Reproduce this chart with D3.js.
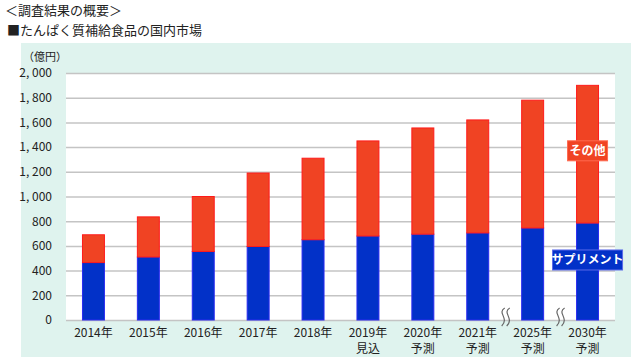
<!DOCTYPE html>
<html>
<head>
<meta charset="utf-8">
<script src="https://cdn.jsdelivr.net/npm/d3@7"></script>
<style>
  body { margin: 0; background: #fff; }
  svg { display: block; font-family: "Noto Sans CJK JP", sans-serif; }
</style>
</head>
<body>
<div id="chart"></div>
<script>
var years = ["2014年", "2015年", "2016年", "2017年", "2018年", "2019年", "2020年", "2021年", "2025年", "2030年"],
    subLabels = ["", "", "", "", "", "見込", "予測", "予測", "予測", "予測"],
    supplement = [465, 510, 555, 595, 650, 680, 695, 705, 745, 785],
    totals = [690, 835, 1000, 1190, 1310, 1450, 1555, 1620, 1780, 1900],
    yTicks = [0, 200, 400, 600, 800, 1000, 1200, 1400, 1600, 1800, 2000];

var svg = d3.select("#chart").append("svg").attr("width", 640).attr("height", 364);

// titles
svg.append("text").attr("x", 5).attr("y", 15).attr("font-size", 13).attr("fill", "#222").text("＜調査結果の概要＞");
svg.append("text").attr("x", 7).attr("y", 35).attr("font-size", 13).attr("fill", "#222").text("■たんぱく質補給食品の国内市場");

// mint panel
svg.append("rect").attr("x", 21).attr("y", 43).attr("width", 610).attr("height", 314).attr("fill", "#dff3ee");

var x = d3.scaleBand().domain(years).range([66, 615]).paddingInner(0.6).paddingOuter(0.3);
var y = d3.scaleLinear().domain([0, 2000]).range([320, 73]);

svg.append("rect").attr("x", 66).attr("y", 73).attr("width", 549).attr("height", 247).attr("fill", "#fff");

// gridlines + labels
var ax = svg.append("g").attr("transform", "translate(66,0)")
    .call(d3.axisLeft(y).tickValues(yTicks).tickSize(-549).tickPadding(14)
      .tickFormat(d => d3.format(",")(d).replace(",", ", ")));
ax.select(".domain").remove();
ax.selectAll(".tick line").attr("stroke", "#c4c4c4").attr("stroke-width", 1.5);
ax.selectAll(".tick text").attr("font-size", 12).attr("fill", "#222").attr("font-family", "\"Noto Sans CJK JP\", sans-serif");

svg.append("text").attr("x", 23).attr("y", 61).attr("font-size", 11).attr("fill", "#222").text("（億円）");

// stacked bars
svg.append("g").selectAll("rect").data(years).join("rect")
    .attr("x", d => x(d)).attr("width", x.bandwidth())
    .attr("y", (d, i) => y(supplement[i])).attr("height", (d, i) => y(0) - y(supplement[i]))
    .attr("fill", "#0231c8").attr("stroke", "#2a2af0").attr("stroke-width", 1);
svg.append("g").selectAll("rect").data(years).join("rect")
    .attr("x", d => x(d)).attr("width", x.bandwidth())
    .attr("y", (d, i) => y(totals[i])).attr("height", (d, i) => y(supplement[i]) - y(totals[i]))
    .attr("fill", "#f04323").attr("stroke", "#ff1a1a").attr("stroke-width", 1);

// x labels
var xl = svg.append("g").selectAll("text").data(years).join("text")
    .attr("x", d => x(d) + x.bandwidth() / 2).attr("y", 337)
    .attr("text-anchor", "middle").attr("font-size", 12).attr("fill", "#222");
xl.append("tspan").text(d => d);
xl.append("tspan").attr("x", d => x(d) + x.bandwidth() / 2).attr("dy", 16).text((d, i) => subLabels[i]);

// break marks between 2021/2025 and 2025/2030
function wave(cx) {
  var p = d3.path();
  p.moveTo(cx + 2, 308);
  p.bezierCurveTo(cx - 6, 313, cx + 7, 318, cx - 1, 326);
  return p.toString();
}
[[years[7], years[8]], [years[8], years[9]]].forEach(function (pair) {
  var cx = (x(pair[0]) + x.bandwidth() + x(pair[1])) / 2;
  [-2.5, 2.5].forEach(function (o) {
    svg.append("path").attr("d", wave(cx + o)).attr("fill", "none").attr("stroke", "#666").attr("stroke-width", 1.2);
  });
});

// series labels on the last bar
var last = years[years.length - 1], lc = x(last) + x.bandwidth() / 2;
function tag(text, val, w, fill, stroke) {
  var g = svg.append("g").attr("transform", "translate(" + lc + "," + y(val) + ")");
  g.append("rect").attr("x", -w / 2).attr("y", -10).attr("width", w).attr("height", 20)
    .attr("fill", fill).attr("stroke", stroke);
  g.append("text").attr("text-anchor", "middle").attr("dy", "0.36em").attr("font-size", 12)
    .attr("font-weight", "bold").attr("fill", "#fff").text(text);
}
tag("その他", 1370, 40, "#f04323", "#ff6a50");
tag("サプリメント", 486, 70, "#0231c8", "#5a6ae8");
</script>
</body>
</html>
